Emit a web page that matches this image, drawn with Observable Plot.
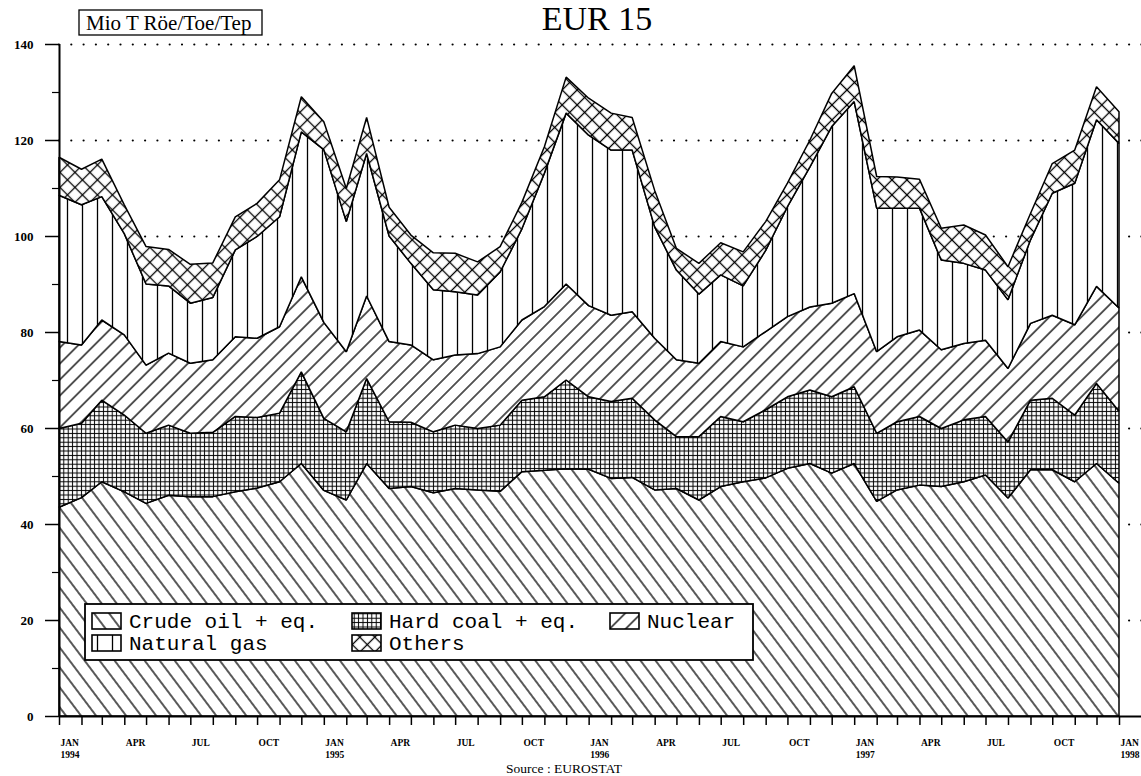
<!DOCTYPE html>
<html><head><meta charset="utf-8">
<script src="https://cdn.jsdelivr.net/npm/d3@7"></script>
<script src="https://cdn.jsdelivr.net/npm/@observablehq/plot@0.6"></script>
<style>body{margin:0;background:#fff;} svg{display:block}</style>
</head><body><div id="chart"></div>
<script>
// ---- data (Mio T Röe/Toe/Tep), monthly Jan 1994 .. Jan 1998 ----
const seriesNames = ["Crude oil + eq.", "Hard coal + eq.", "Nuclear", "Natural gas", "Others"];
const crudeOil   = [43.5,45.5,48.8,46.7,44.3,46.0,45.7,45.7,46.7,47.5,48.8,52.6,47.0,45.0,52.6,47.4,47.8,46.5,47.4,47.1,46.8,50.9,51.2,51.5,51.4,49.5,49.7,47.1,47.4,45.0,47.8,48.8,49.6,51.6,52.6,50.6,52.6,44.7,47.1,48.1,47.8,48.8,50.2,45.4,51.3,51.3,48.8,52.6,48.5];
const hardCoal   = [16.4,15.5,17.0,16.0,14.6,14.6,13.2,13.4,15.7,14.7,14.3,19.1,15.0,14.2,17.7,13.9,13.4,12.7,13.2,12.8,13.8,14.9,15.3,18.5,15.1,16.0,16.5,14.6,10.8,13.2,14.6,12.5,14.2,14.9,15.3,15.9,16.0,14.2,14.2,14.3,12.1,12.9,12.2,11.7,14.5,14.9,13.9,16.7,15.0];
const nuclear    = [18.1,16.3,16.7,16.7,14.2,15.0,14.6,15.1,16.6,16.5,18.0,19.8,20.0,16.7,17.2,16.7,16.1,15.0,14.6,15.6,16.3,16.7,18.8,20.0,19.0,18.0,18.0,17.0,16.0,15.3,15.6,15.6,16.3,16.7,17.3,19.5,19.4,17.0,17.7,18.0,16.4,15.9,15.9,15.3,16.0,17.3,18.8,20.2,21.5];
const naturalGas = [30.5,29.2,25.7,21.1,16.9,14.0,12.5,13.0,18.1,21.2,22.9,30.2,36.0,27.1,29.7,22.0,17.0,14.6,13.2,12.2,15.6,19.0,27.8,35.6,35.5,34.4,33.7,23.2,18.7,14.4,13.9,12.7,16.9,22.9,29.2,36.8,40.0,29.9,26.8,25.4,18.7,16.7,14.6,14.3,17.4,25.4,29.5,34.7,34.3];
const others     = [7.9,7.4,7.8,6.0,7.8,7.6,8.1,7.2,6.9,6.9,7.7,7.3,5.8,6.9,7.5,6.0,5.9,7.7,8.0,6.9,5.3,5.5,5.5,7.5,7.7,7.7,6.8,7.6,4.5,6.4,6.7,7.1,6.0,4.9,5.6,6.9,7.5,6.6,6.5,6.0,6.6,8.0,7.3,6.9,5.5,6.2,6.9,6.9,6.6];
const yTicks = [0, 20, 40, 60, 80, 100, 120, 140];
const yMinorTicks = [10, 30, 50, 70, 90, 110, 130];
const quarterNames = ["JAN", "APR", "JUL", "OCT"];
const titleText = "EUR 15";
const unitText = "Mio T Röe/Toe/Tep";
const sourceText = "Source : EUROSTAT";

// ---- build table ----
const months = d3.utcMonth.range(new Date(Date.UTC(1994, 0, 1)), new Date(Date.UTC(1998, 0, 2)));
const seriesValues = [crudeOil, hardCoal, nuclear, naturalGas, others];
const patternIds = ["pCrude", "pCoal", "pNuclear", "pGas", "pOthers"];
const cum = months.map(() => 0);
const layers = [];
for (let k = 0; k < seriesValues.length; k++) {
  const rows = [];
  for (let i = 0; i < months.length; i++) {
    const lo = cum[i], hi = lo + seriesValues[k][i];
    rows.push({date: months[i], lo, hi, series: seriesNames[k]});
    cum[i] = hi;
  }
  layers.push(rows);
}
const quarterTicks = months.filter(d => d.getUTCMonth() % 3 === 0);
const gridEnd = new Date(Date.UTC(1998, 1, 1));

const svg = Plot.plot({
  width: 1141,
  height: 776,
  marginLeft: 59,
  marginRight: 22,
  marginTop: 44,
  marginBottom: 60,
  style: {fontFamily: "'Liberation Serif', 'Times New Roman', serif", color: "black", background: "white", overflow: "visible"},
  x: {type: "utc", domain: [months[0], months[months.length - 1]], axis: null},
  y: {domain: [0, 140], axis: null},
  marks: [
    Plot.ruleY(yTicks.filter(d => d > 0), {x1: months[0], x2: gridEnd, stroke: "black", strokeWidth: 2.2, strokeDasharray: "0,12.3", strokeLinecap: "round"}),
    ...layers.map((rows, k) => Plot.areaY(rows, {x: "date", y1: "lo", y2: "hi", fill: `url(#${patternIds[k]})`, stroke: "black", strokeWidth: 1.5, strokeLinejoin: "miter"})),
    Plot.ruleY([0], {x1: months[0], x2: gridEnd, stroke: "black", strokeWidth: 2}),
    Plot.ruleX([months[0]], {y1: 0, y2: 140, stroke: "black", strokeWidth: 2}),
    Plot.axisY({ticks: yTicks, tickSize: 14, tickPadding: 12, tickFormat: d => String(d), fontSize: 13, fontWeight: "bold", strokeWidth: 1.5}),
    Plot.axisY({ticks: yMinorTicks, tickSize: 7, tickFormat: () => "", strokeWidth: 1.2}),
    Plot.axisX({ticks: months, tickSize: 9, tickFormat: () => "", strokeWidth: 1.5}),
    Plot.text(quarterTicks, {
      x: d => d, y: 0,
      text: d => quarterNames[d.getUTCMonth() / 3] + (d.getUTCMonth() === 0 ? "\n" + d.getUTCFullYear() : ""),
      textAnchor: "start", lineAnchor: "top", dy: 21, dx: 1, fontSize: 9.5, fontWeight: "bold", lineHeight: 1.25
    })
  ]
});

// ---- hatch patterns ----
const s = d3.select(svg);
const defs = s.insert("defs", ":first-child");
function pattern(id, w, h, transform, draw) {
  const p = defs.append("pattern").attr("id", id).attr("patternUnits", "userSpaceOnUse")
    .attr("width", w).attr("height", h);
  if (transform) p.attr("patternTransform", transform);
  p.append("rect").attr("width", w).attr("height", h).attr("fill", "white");
  draw(p, w, h);
}
const line = (p, x1, y1, x2, y2, sw) => p.append("line").attr("x1", x1).attr("y1", y1).attr("x2", x2).attr("y2", y2)
  .attr("stroke", "black").attr("stroke-width", sw);
pattern("pCrude", 12, 12, "rotate(-37)", (p, w, h) => line(p, w / 2, 0, w / 2, h, 1.3));
pattern("pNuclear", 11.3, 11.3, "rotate(45)", (p, w, h) => line(p, w / 2, 0, w / 2, h, 1.3));
pattern("pGas", 15, 15, null, (p, w, h) => line(p, w / 2, 0, w / 2, h, 1.3));
pattern("pOthers", 10.6, 10.6, "rotate(45)", (p, w, h) => { line(p, w / 2, 0, w / 2, h, 1.3); line(p, 0, h / 2, w, h / 2, 1.3); });
pattern("pCoal", 4.4, 4.4, null, (p, w, h) => { line(p, w / 2, 0, w / 2, h, 1); line(p, 0, h / 2, w, h / 2, 1); });

// ---- title, unit box, source ----
const serif = "'Liberation Serif', 'Times New Roman', serif";
s.append("text").attr("x", 597).attr("y", 30).attr("text-anchor", "middle")
  .attr("font-size", 34).attr("font-family", serif).attr("fill", "black").text(titleText);
s.append("rect").attr("x", 79).attr("y", 10).attr("width", 183).attr("height", 25)
  .attr("fill", "white").attr("stroke", "black").attr("stroke-width", 1.3);
s.append("text").attr("x", 86).attr("y", 30).attr("text-anchor", "start").attr("font-size", 21)
  .attr("font-family", serif).attr("fill", "black").text(unitText);
s.append("text").attr("x", 564).attr("y", 773).attr("text-anchor", "middle").attr("font-size", 13.5)
  .attr("font-family", serif).attr("fill", "black").text(sourceText);

// ---- legend ----
const lg = s.append("g");
lg.append("rect").attr("x", 85).attr("y", 604).attr("width", 668).attr("height", 56)
  .attr("fill", "white").attr("stroke", "black").attr("stroke-width", 1.8);
const legendPos = [[92, 613], [352, 613], [610, 613], [92, 635], [352, 635]];
seriesNames.forEach((name, k) => {
  const [x, y] = legendPos[k];
  lg.append("rect").attr("x", x).attr("y", y).attr("width", 29).attr("height", 16)
    .attr("fill", `url(#${patternIds[k]})`).attr("stroke", "black").attr("stroke-width", 1.6);
  lg.append("text").attr("x", x + 37).attr("y", y + 15).attr("text-anchor", "start").attr("font-size", 21)
    .attr("font-family", "'Courier New', 'Liberation Mono', monospace").attr("fill", "black").text(name);
});

document.getElementById("chart").appendChild(svg);
</script>
</body></html>
